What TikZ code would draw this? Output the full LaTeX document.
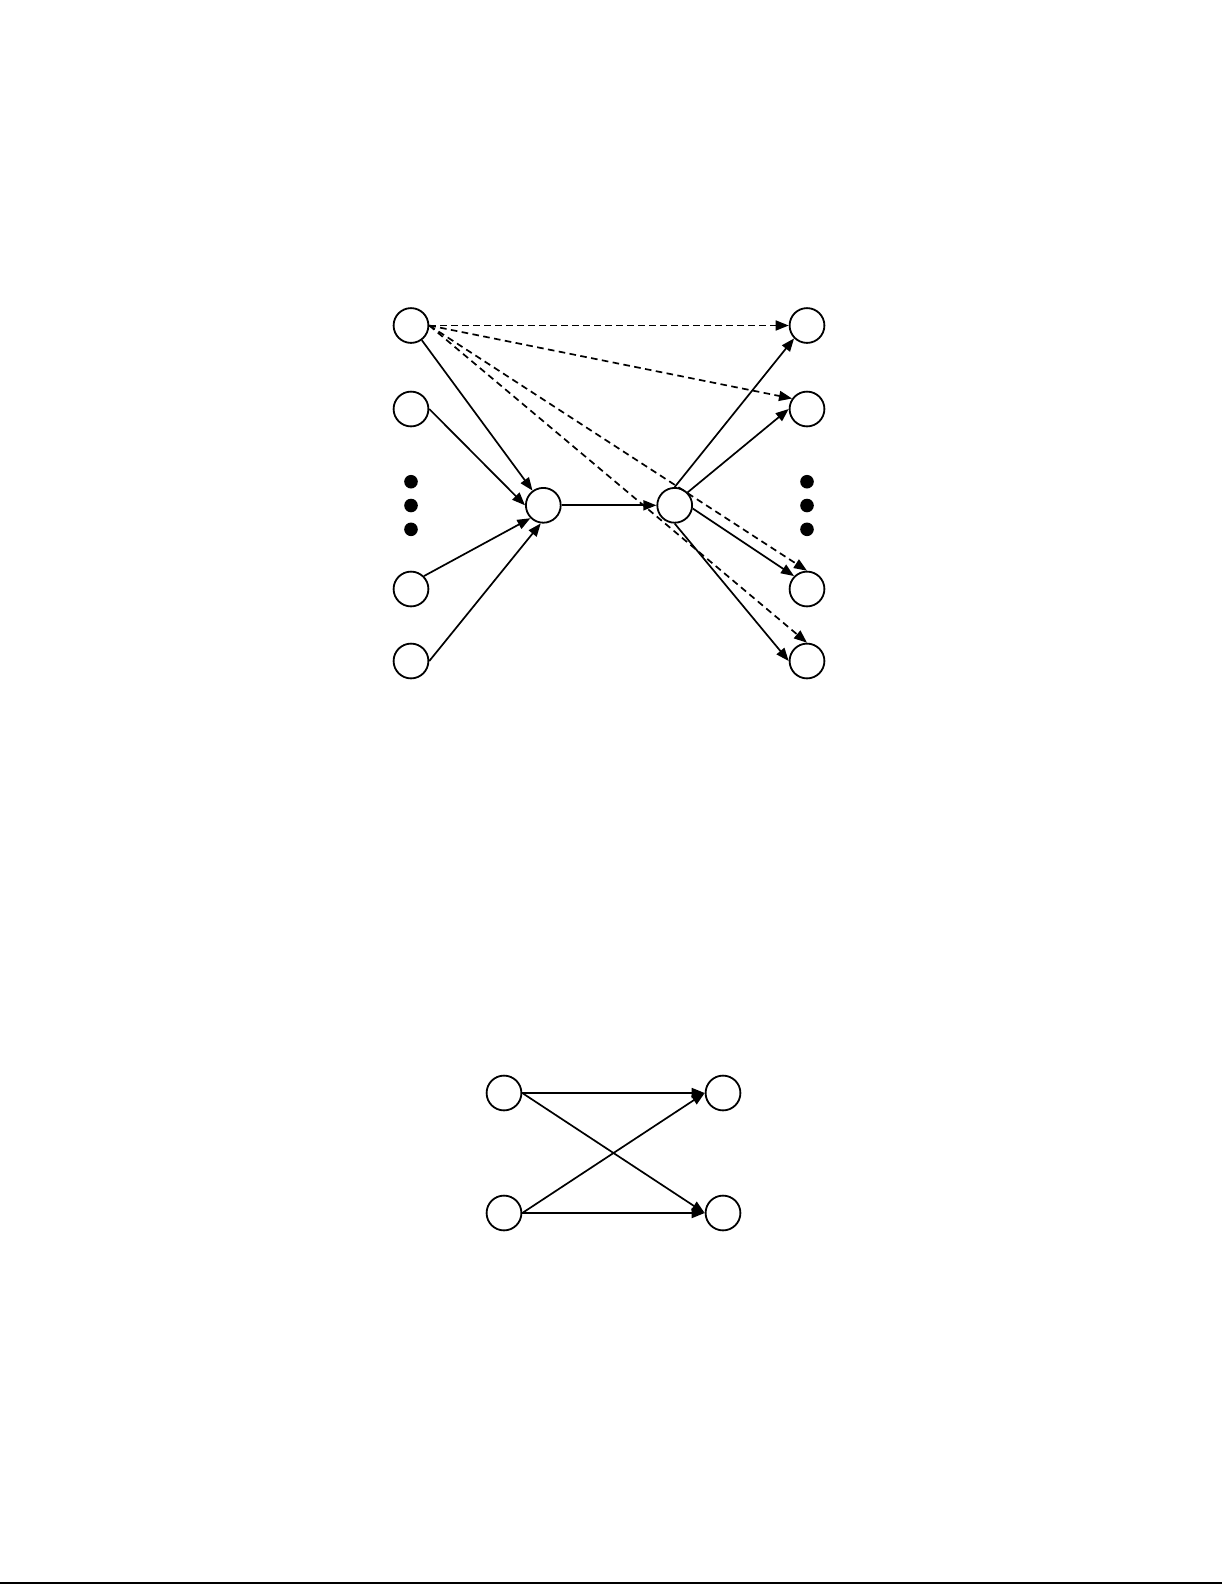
\documentclass[tikz,border=0pt]{standalone}
\usetikzlibrary{arrows.meta}
\begin{document}
\begin{tikzpicture}[x=0.5pt,y=-0.5pt,
  nd/.style={circle,draw,line width=0.9pt,minimum size=17.4pt,inner sep=0pt,fill=white},
  dotn/.style={circle,fill=black,minimum size=6.8pt,inner sep=0pt},
  arr/.style={line width=0.85pt,-{Triangle[length=6.5pt,width=5pt]}},
  darr/.style={arr,dash pattern=on 3.3pt off 2.2pt}]
\useasboundingbox (0,0) rectangle (1225,1585);
% top diagram
\node[nd] (L1) at (411,325.5) {};
\node[nd] (L2) at (411,409) {};
\node[nd] (L3) at (411,589) {};
\node[nd] (L4) at (411,661) {};
\node[dotn] (ld1) at (411,481.7) {};
\node[dotn] (ld2) at (411,505.5) {};
\node[dotn] (ld3) at (411,529.3) {};
\node[nd] (ML) at (543.3,505.3) {};
\node[nd] (MR) at (674.7,505.3) {};
\node[nd] (R1) at (807,325.5) {};
\node[nd] (R2) at (807,409) {};
\node[nd] (R3) at (807,589) {};
\node[nd] (R4) at (807,661) {};
\node[dotn] (rd1) at (807,481.7) {};
\node[dotn] (rd2) at (807,505.5) {};
\node[dotn] (rd3) at (807,529.3) {};
% solid
\draw[arr] (L1) -- (ML);
\draw[arr] (L2.east) -- (ML.west);
\draw[arr] (L3.45) -- (ML.225);
\draw[arr] (L4.east) -- (ML.262);
\draw[arr] (ML.east) -- (MR.west);
\draw[arr] (MR.north) -- (R1.south west);
\draw[arr] (MR.45) -- (R2.west);
\draw[arr] (MR.350) -- (R3.north west);
\draw[arr] (MR.south) -- (R4.west);
% dashed
\draw[darr] (L1.east) -- (R1.west);
\draw[darr] (L1.east) -- (R2.145);
\draw[darr] (L1.east) -- (R3.north);
\draw[darr] (L1.east) -- (R4.north);
% bottom diagram
\node[nd] (BL1) at (504,1093) {};
\node[nd] (BL2) at (504,1213) {};
\node[nd] (BR1) at (723,1093) {};
\node[nd] (BR2) at (723,1213) {};
\draw[arr] (BL1.east) -- (BR1.west);
\draw[arr] (BL1.east) -- (BR2.west);
\draw[arr] (BL2.east) -- (BR1.west);
\draw[arr] (BL2.east) -- (BR2.west);
% page rule
\coordinate (ruleA) at (0,1583);
\coordinate (ruleB) at (1222,1583);
\draw[line width=1pt] (ruleA) -- (ruleB);
\end{tikzpicture}
\end{document}
